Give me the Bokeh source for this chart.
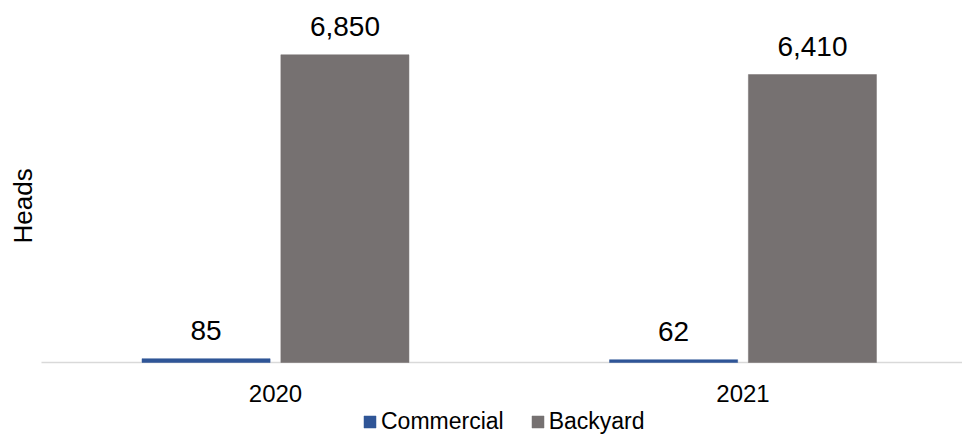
import math
from bokeh.plotting import figure
from bokeh.models import ColumnDataSource, Legend, LegendItem, Label, Range1d
from bokeh.core.properties import value
from bokeh.embed import file_html
from bokeh.resources import INLINE

# ---- data ----
years = ["2020", "2021"]
commercial = [85, 62]
backyard = [6850, 6410]
series_names = ["Commercial", "Backyard"]
series_colors = ["#2F5597", "#767171"]
y_title = "Heads"

FONT = "Liberation Sans"
pos = list(range(len(years)))
offset = 0.1485
bar_w = 0.274
X0, X1 = -0.5882, 1.4695
AXIS_X0 = -0.5005

p = figure(
    width=962, height=435,
    x_range=Range1d(X0, X1), y_range=Range1d(-1625, 8059),
    output_backend="svg", toolbar_location=None,
    min_border_left=0, min_border_right=0, min_border_top=0, min_border_bottom=0,
)
p.outline_line_color = None
p.xgrid.visible = False
p.ygrid.visible = False
p.xaxis.visible = False
p.yaxis.visible = False

# category axis line
p.segment(x0=[AXIS_X0], y0=[0], x1=[X1], y1=[0], line_color="#D9D9D9", line_width=1.5)

renderers = []
for vals, name, col, sgn in [(commercial, series_names[0], series_colors[0], -1),
                             (backyard, series_names[1], series_colors[1], 1)]:
    src = ColumnDataSource(dict(
        x=[i + sgn * offset for i in pos],
        top=vals,
        lab=[f"{v:,}" for v in vals],
    ))
    r = p.vbar(x="x", top="top", width=bar_w, source=src, fill_color=col, line_color=col, line_width=0.5)
    renderers.append((name, r))
    p.text(x="x", y="top", text="lab", source=src, text_align="center", text_baseline="alphabetic",
           y_offset=-28, text_font=value(FONT), text_font_size="28px", text_color="#000000")

# category labels
cat_src = ColumnDataSource(dict(x=pos, y=[0] * len(pos), t=years))
p.text(x="x", y="y", text="t", source=cat_src, text_align="center", text_baseline="alphabetic",
       y_offset=31, text_font=value(FONT), text_font_size="24px", text_color="#000000")

p.add_layout(Label(x=-0.5401, y=3488, text=y_title, angle=math.pi / 2, text_align="center",
                   text_baseline="middle", text_font=FONT, text_font_size="26px", text_color="#000000"))

legend = Legend(items=[LegendItem(label=n, renderers=[r]) for n, r in renderers],
                orientation="horizontal", location=(362, 0),
                label_text_font=FONT, label_text_font_size="23px", label_text_color="#000000",
                glyph_width=15, glyph_height=15, label_standoff=4, spacing=26,
                padding=0, margin=0, border_line_color=None, background_fill_alpha=0)
p.add_layout(legend, "center")

open("out.html", "w").write(file_html(p, INLINE))
